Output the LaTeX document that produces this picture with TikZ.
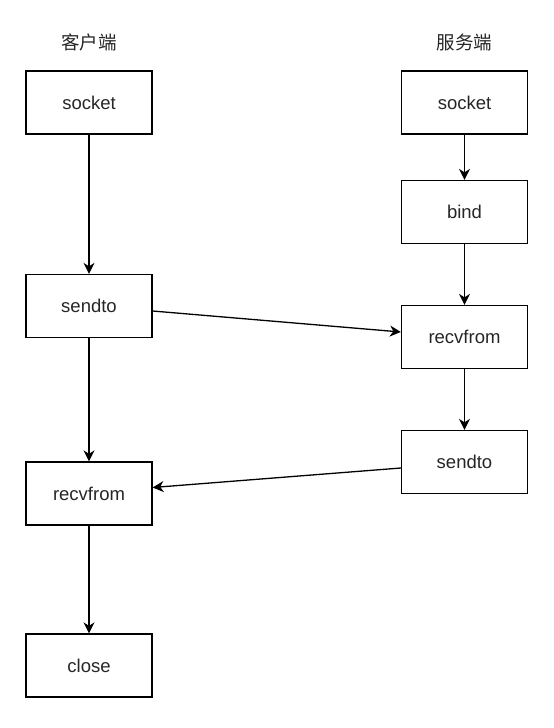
\documentclass[tikz,border=0pt]{standalone}
\usepackage{fontspec}
\setmainfont{Liberation Sans}
\newfontfamily\cjk{Noto Sans CJK SC}
\usetikzlibrary{arrows.meta}
\tikzset{
  stepbox/.style={draw=black, line width=1.3pt, minimum width=126pt, minimum height=63pt, inner sep=0pt, font=\fontsize{18.5}{20}\selectfont, text=black!85},
  title/.style={font=\cjk\fontsize{18.5}{20}\selectfont, text=black!85, inner sep=0pt},
  conn/.style={draw=black, line width=1.3pt, -{Stealth[length=11pt,width=11pt,inset=3.5pt]}}
}
\begin{document}
\begin{tikzpicture}[x=1pt,y=-1pt]
\useasboundingbox[fill=white] (0,0) rectangle (554,728);
\node[title] (ct) at (89,42) {客户端};
\node[title] (st) at (464.5,42) {服务端};
\node[stepbox] (csock) at (89,102.5) {socket};
\node[stepbox] (csend) at (89,306) {sendto};
\node[stepbox] (crecv) at (89,493.5) {recvfrom};
\node[stepbox] (cclose) at (89,665.5) {close};
\node[stepbox] (ssock) at (464.5,102.5) {socket};
\node[stepbox] (sbind) at (464.5,212) {bind};
\node[stepbox] (srecv) at (464.5,337) {recvfrom};
\node[stepbox] (ssend) at (464.5,462) {sendto};
\draw[conn] (csock) -- (csend);
\draw[conn] (csend) -- (crecv);
\draw[conn] (crecv) -- (cclose);
\draw[conn] (ssock) -- (sbind);
\draw[conn] (sbind) -- (srecv);
\draw[conn] (srecv) -- (ssend);
\draw[conn] ([yshift=-5pt]csend.east) -- ([yshift=5pt]srecv.west);
\draw[conn] ([yshift=-6pt]ssend.west) -- ([yshift=6pt]crecv.east);
\end{tikzpicture}
\end{document}
